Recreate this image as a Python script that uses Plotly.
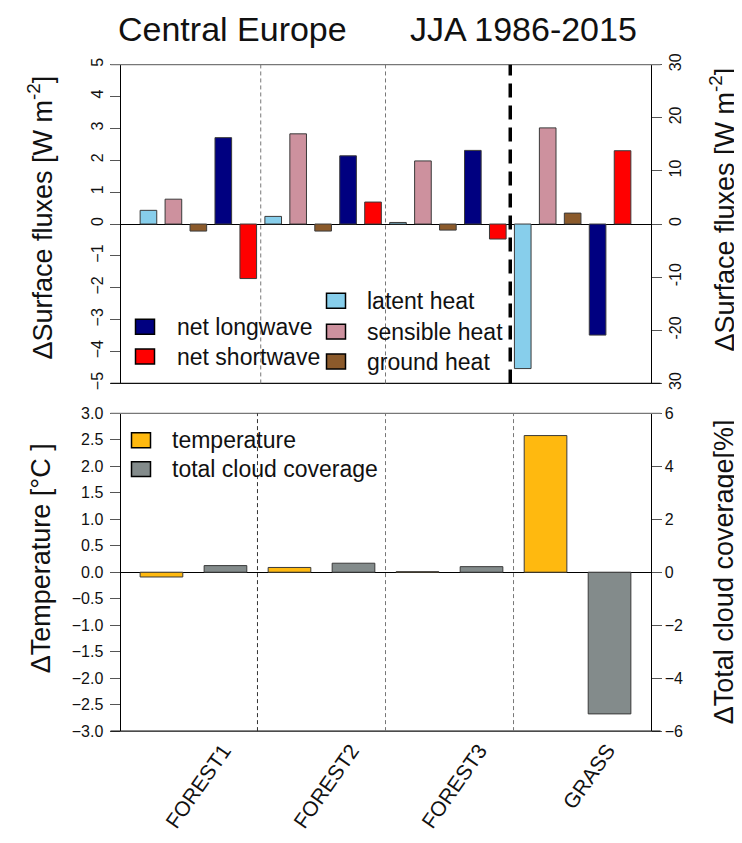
import plotly.graph_objects as go

# ---------------- data ----------------
groups = ["FOREST1", "FOREST2", "FOREST3", "GRASS"]

# surface flux changes; FOREST values on left axis (W m-2), GRASS on right axis (W m-2)
latent_heat = [0.43, 0.24, 0.05, -27.2]
sensible_heat = [0.78, 2.83, 1.98, 18.1]
ground_heat = [-0.22, -0.22, -0.19, 2.06]
net_longwave = [2.71, 2.14, 2.31, -20.9]
net_shortwave = [-1.71, 0.69, -0.47, 13.8]

# temperature (left axis, degC) and total cloud coverage (right axis, %)
temperature = [-0.09, 0.09, 0.01, 2.58]
cloud_cover = [0.25, 0.34, 0.21, -5.35]

flux_names = ["latent heat", "sensible heat", "ground heat", "net longwave", "net shortwave"]
flux_values = [latent_heat, sensible_heat, ground_heat, net_longwave, net_shortwave]
flux_colors = ["#87CEEB", "#CD919E", "#8B5A2B", "#000080", "#FF0000"]
temp_color = "#FFB90F"
cloud_color = "#838B8B"

top_left_ticks = [5, 4, 3, 2, 1, 0, -1, -2, -3, -4, -5]
top_right_ticks = [30, 20, 10, 0, -10, -20, -30]
top_right_ticktext = ["30", "20", "10", "0", "-10", "-20", "30"]
bot_left_ticks = [3.0, 2.5, 2.0, 1.5, 1.0, 0.5, 0.0, -0.5, -1.0, -1.5, -2.0, -2.5, -3.0]
bot_right_ticks = [6, 4, 2, 0, -2, -4, -6]

# ---------------- layout helpers ----------------
W, H = 742, 843
FONT = "Liberation Sans, Arial, sans-serif"

# compensation for page offset / scaling observed in the rendering
DX, SY, DY = 7.5, 0.98, 16.5


def px(p):
    return (p - DX) / W


def py(p):
    return 1 - (p / SY - DY) / H


X0, X1 = 120, 650
TOP_Y0, TOP_Y1 = 62, 382
BOT_Y0, BOT_Y1 = 412, 731

SPACE = 0.5  # R-style barplot spacing (bar width 1)


def bar_center(i):
    return SPACE + i * (1 + SPACE) + 0.5


fig = go.Figure()

n_flux = len(flux_names)
n_forest = 3
outline = dict(color="#3a3a3a", width=1)
# ---- top panel: fluxes ----
for j, (name, vals, col) in enumerate(zip(flux_names, flux_values, flux_colors)):
    xs = [bar_center(n_flux * g + j) for g in range(n_forest)]
    fig.add_trace(go.Bar(x=xs, y=vals[:n_forest], width=1, name=name,
                         marker=dict(color=col, line=outline),
                         xaxis="x", yaxis="y", showlegend=False))
    fig.add_trace(go.Bar(x=[bar_center(n_flux * n_forest + j)], y=vals[n_forest:], width=1, name=name,
                         marker=dict(color=col, line=outline),
                         xaxis="x", yaxis="y2", showlegend=False))

# ---- bottom panel: temperature & clouds ----
fig.add_trace(go.Bar(x=[bar_center(2 * g) for g in range(len(groups))], y=temperature, width=1,
                     name="temperature", marker=dict(color=temp_color, line=outline),
                     xaxis="x2", yaxis="y3", showlegend=False))
fig.add_trace(go.Bar(x=[bar_center(2 * g + 1) for g in range(len(groups))], y=cloud_cover, width=1,
                     name="total cloud coverage", marker=dict(color=cloud_color, line=outline),
                     xaxis="x2", yaxis="y4", showlegend=False))

n_top = n_flux * len(groups)
n_bot = 2 * len(groups)
top_lo, top_hi = SPACE, SPACE + n_top * (1 + SPACE) - SPACE
pad_t = 0.04 * (top_hi - top_lo)
bot_lo, bot_hi = SPACE, SPACE + n_bot * (1 + SPACE) - SPACE
pad_b = 0.04 * (bot_hi - bot_lo)

tickfont = dict(family=FONT, size=16, color="#111")
axis_common = dict(showgrid=False, ticks="outside", ticklen=10, tickcolor="#555",
                   showline=True, linecolor="#000", linewidth=1, tickfont=tickfont)

fig.update_layout(
    width=W, height=H, margin=dict(l=0, r=0, t=0, b=0),
    paper_bgcolor="white", plot_bgcolor="white", barmode="overlay",
    xaxis=dict(domain=[px(X0), px(X1)], anchor="y", range=[top_lo - pad_t, top_hi + pad_t],
               showticklabels=False, ticks="", showgrid=False, zeroline=False, showline=False),
    yaxis=dict(domain=[py(TOP_Y1), py(TOP_Y0)], anchor="x", range=[-5, 5], tickvals=top_left_ticks,
               tickangle=-90, zeroline=True, zerolinecolor="#000", zerolinewidth=1, **axis_common),
    yaxis2=dict(overlaying="y", anchor="x", side="right", range=[-30, 30], tickvals=top_right_ticks,
                ticktext=top_right_ticktext, tickangle=-90, zeroline=False, **axis_common),
    xaxis2=dict(domain=[px(X0), px(X1)], anchor="y3", range=[bot_lo - pad_b, bot_hi + pad_b],
                tickvals=[(bar_center(2 * g) + bar_center(2 * g + 1)) / 2 + 0.7 for g in range(len(groups))],
                ticktext=groups, tickangle=-55, ticks="", showgrid=False, zeroline=False, showline=False,
                ticklabelstandoff=2,
                tickfont=dict(family=FONT, size=21, color="#111")),
    yaxis3=dict(domain=[py(BOT_Y1), py(BOT_Y0)], anchor="x2", range=[-3, 3], tickvals=bot_left_ticks,
                tickformat=".1f", zeroline=True, zerolinecolor="#000", zerolinewidth=1,
                ticklabelstandoff=3, **axis_common),
    yaxis4=dict(overlaying="y3", anchor="x2", side="right", range=[-6, 6], tickvals=bot_right_ticks,
                zeroline=False, **axis_common),
)

shapes = []
ext = 10 / (X1 - X0)
# box top/bottom lines
for yref, xref in (("y domain", "x domain"), ("y3 domain", "x2 domain")):
    shapes.append(dict(type="line", xref=xref, yref=yref, x0=-ext, x1=1 + ext, y0=1, y1=1,
                       line=dict(color="#777", width=1.2)))
    shapes.append(dict(type="line", xref=xref, yref=yref, x0=-ext, x1=1 + ext, y0=0, y1=0,
                       line=dict(color="#111", width=1.2)))

# group separators - top panel
for g in range(1, len(groups)):
    xs = (bar_center(n_flux * g - 1) + bar_center(n_flux * g)) / 2
    if g < len(groups) - 1:
        shapes.append(dict(type="line", xref="x", yref="y domain", x0=xs, x1=xs, y0=0, y1=1,
                           line=dict(color="#777", width=1, dash="4px,3px")))
    else:
        shapes.append(dict(type="line", xref="x", yref="y domain", x0=xs, x1=xs, y0=0, y1=1,
                           line=dict(color="#000", width=3.5, dash="14px,8px")))
# group separators - bottom panel
for g in range(1, len(groups)):
    xs = (bar_center(2 * g - 1) + bar_center(2 * g)) / 2
    shapes.append(dict(type="line", xref="x2", yref="y3 domain", x0=xs, x1=xs, y0=0, y1=1,
                       line=dict(color="#333" if g == 1 else "#777", width=1, dash="4px,3px")))

annotations = []
LEG_FONT = dict(family=FONT, size=23, color="#111")


def legend_item(x_box, y_mid, x_text, label, color):
    shapes.append(dict(type="rect", xref="paper", yref="paper",
                       x0=px(x_box), x1=px(x_box + 19), y0=py(y_mid + 7.5), y1=py(y_mid - 7.5),
                       fillcolor=color, line=dict(color="#000", width=1.5)))
    annotations.append(dict(text=label, xref="paper", yref="paper", x=px(x_text - 2), y=py(y_mid),
                            xanchor="left", yanchor="middle", showarrow=False, font=LEG_FONT))


# top legends
legend_item(135, 325, 176, flux_names[3], flux_colors[3])
legend_item(135, 355, 176, flux_names[4], flux_colors[4])
legend_item(326, 299, 366, flux_names[0], flux_colors[0])
legend_item(326, 330, 366, flux_names[1], flux_colors[1])
legend_item(326, 360, 366, flux_names[2], flux_colors[2])
# bottom legend
legend_item(131, 439, 171, "temperature", temp_color)
legend_item(131, 468, 171, "total cloud coverage", cloud_color)

# titles
TITLE_FONT = dict(family=FONT, size=34, color="#111")
annotations.append(dict(text="Central Europe", xref="paper", yref="paper", x=px(115), y=py(26),
                        xanchor="left", yanchor="middle", showarrow=False, font=TITLE_FONT))
annotations.append(dict(text="JJA 1986-2015", xref="paper", yref="paper", x=px(407), y=py(26),
                        xanchor="left", yanchor="middle", showarrow=False, font=TITLE_FONT))

AX_FONT = dict(family=FONT, size=27, color="#111")


def axis_title(text, x, y):
    annotations.append(dict(text=text, xref="paper", yref="paper", x=px(x), y=py(y),
                            xanchor="center", yanchor="middle", textangle=-90,
                            showarrow=False, font=AX_FONT))


axis_title("ΔSurface fluxes [W m<sup>-2</sup>]", 40, 216)
axis_title("ΔSurface fluxes [W m<sup>-2</sup>]", 722, 208)
axis_title("ΔTemperature [°C ]", 40, 558)
axis_title("ΔTotal cloud coverage[%]", 723, 571)

fig.update_layout(shapes=shapes, annotations=annotations)
fig.write_html("out.html")
